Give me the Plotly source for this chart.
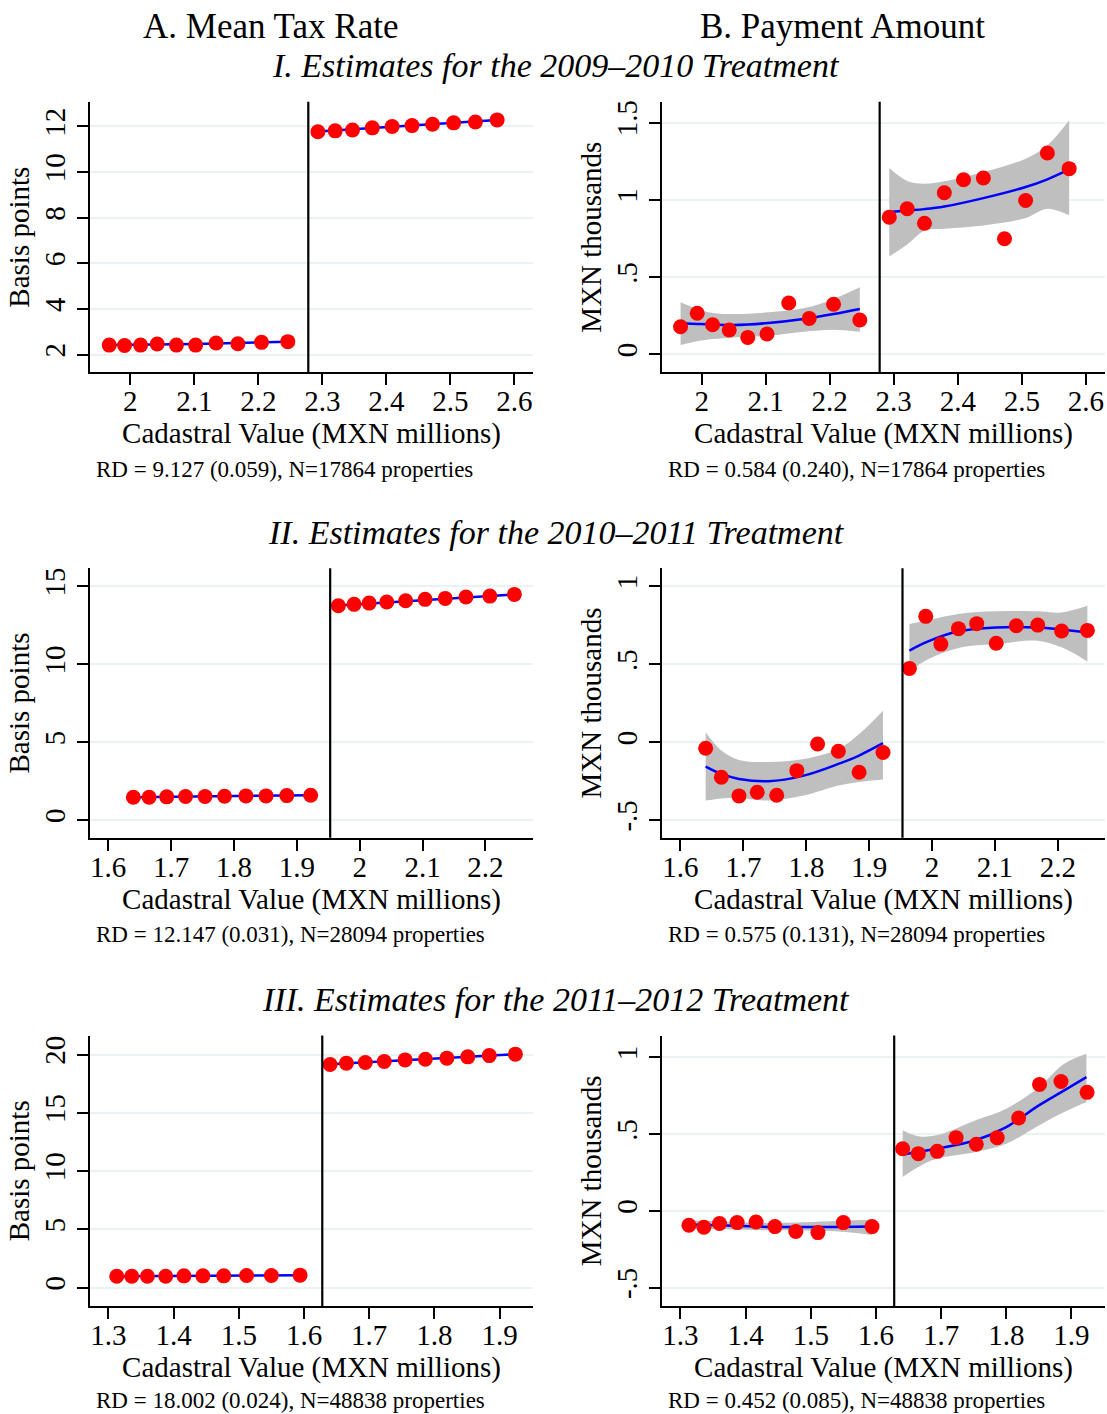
import plotly.graph_objects as go

FONT = "Liberation Serif"
W, H = 1107, 1414

# ---------------- I. 2009-2010 treatment ----------------
# A. mean tax rate (basis points), binned means left/right of the cutoff
a1_x_left = [1.967, 1.991, 2.016, 2.042, 2.072, 2.102, 2.134, 2.168, 2.205, 2.246]
a1_y_left = [2.42, 2.40, 2.42, 2.47, 2.42, 2.42, 2.51, 2.48, 2.54, 2.57]
a1_x_right = [2.293, 2.320, 2.347, 2.378, 2.409, 2.440, 2.472, 2.505, 2.539, 2.573]
a1_y_right = [11.77, 11.81, 11.85, 11.94, 12.00, 12.04, 12.10, 12.16, 12.20, 12.29]
a1_fit_x_left = [1.967, 2.102, 2.246]
a1_fit_left = [2.42, 2.47, 2.57]
a1_fit_x_right = [2.293, 2.440, 2.573]
a1_fit_right = [11.78, 12.04, 12.29]

# B. payment amount (MXN thousands)
b1_x_left = [1.967, 1.993, 2.017, 2.043, 2.072, 2.102, 2.136, 2.168, 2.206, 2.247]
b1_y_left = [0.179, 0.266, 0.192, 0.158, 0.110, 0.132, 0.333, 0.233, 0.324, 0.223]
b1_x_right = [2.293, 2.321, 2.348, 2.379, 2.409, 2.440, 2.473, 2.506, 2.540, 2.574]
b1_y_right = [0.888, 0.942, 0.849, 1.046, 1.130, 1.141, 0.748, 0.996, 1.303, 1.202]
b1_fit_x_left = [1.967, 1.993, 2.017, 2.050, 2.104, 2.159, 2.206, 2.247]
b1_fit_left = [0.202, 0.197, 0.193, 0.190, 0.203, 0.229, 0.261, 0.294]
b1_hi_left = [0.337, 0.294, 0.268, 0.261, 0.272, 0.298, 0.359, 0.434]
b1_lo_left = [0.061, 0.085, 0.099, 0.110, 0.121, 0.147, 0.160, 0.147]
b1_fit_x_right = [2.293, 2.322, 2.348, 2.379, 2.440, 2.506, 2.540, 2.574]
b1_fit_right = [0.921, 0.931, 0.940, 0.957, 1.011, 1.083, 1.133, 1.197]
b1_hi_right = [1.206, 1.120, 1.104, 1.120, 1.180, 1.266, 1.353, 1.515]
b1_lo_right = [0.633, 0.715, 0.800, 0.813, 0.834, 0.882, 0.942, 0.900]

# ---------------- II. 2010-2011 treatment ----------------
a2_x_left = [1.640, 1.665, 1.693, 1.723, 1.754, 1.785, 1.819, 1.851, 1.884, 1.922]
a2_y_left = [1.47, 1.47, 1.50, 1.52, 1.52, 1.54, 1.56, 1.56, 1.58, 1.60]
a2_x_right = [1.966, 1.991, 2.015, 2.043, 2.073, 2.104, 2.136, 2.169, 2.207, 2.246]
a2_y_right = [13.76, 13.85, 13.93, 14.00, 14.08, 14.17, 14.23, 14.32, 14.38, 14.49]
a2_fit_x_left = [1.640, 1.785, 1.922]
a2_fit_left = [1.48, 1.53, 1.60]
a2_fit_x_right = [1.966, 2.104, 2.246]
a2_fit_right = [13.78, 14.13, 14.48]

b2_x_left = [1.640, 1.665, 1.693, 1.722, 1.753, 1.785, 1.818, 1.851, 1.884, 1.922]
b2_y_left = [-0.038, -0.224, -0.344, -0.321, -0.340, -0.182, -0.011, -0.058, -0.192, -0.066]
b2_x_right = [1.964, 1.990, 2.014, 2.042, 2.071, 2.102, 2.134, 2.168, 2.206, 2.247]
b2_y_right = [0.474, 0.808, 0.630, 0.729, 0.761, 0.635, 0.748, 0.752, 0.714, 0.718]
b2_fit_x_left = [1.640, 1.665, 1.693, 1.740, 1.796, 1.851, 1.884, 1.922]
b2_fit_left = [-0.156, -0.203, -0.235, -0.250, -0.214, -0.139, -0.085, -0.006]
b2_hi_left = [0.064, -0.053, -0.113, -0.126, -0.107, -0.043, 0.053, 0.203]
b2_lo_left = [-0.374, -0.360, -0.357, -0.374, -0.342, -0.278, -0.255, -0.239]
b2_fit_x_right = [1.964, 1.990, 2.042, 2.102, 2.168, 2.206, 2.247]
b2_fit_right = [0.588, 0.641, 0.712, 0.737, 0.737, 0.724, 0.705]
b2_hi_right = [0.759, 0.780, 0.823, 0.840, 0.840, 0.833, 0.876]
b2_lo_right = [0.449, 0.524, 0.605, 0.630, 0.652, 0.609, 0.519]

# ---------------- III. 2011-2012 treatment ----------------
a3_x_left = [1.313, 1.336, 1.360, 1.388, 1.416, 1.445, 1.477, 1.512, 1.550, 1.594]
a3_y_left = [0.97, 0.97, 0.97, 0.97, 1.00, 1.00, 1.00, 1.03, 1.03, 1.06]
a3_x_right = [1.640, 1.665, 1.694, 1.723, 1.755, 1.786, 1.819, 1.851, 1.884, 1.924]
a3_y_right = [19.14, 19.26, 19.31, 19.40, 19.54, 19.60, 19.69, 19.80, 19.91, 20.03]
a3_fit_x_left = [1.313, 1.445, 1.594]
a3_fit_left = [0.97, 1.00, 1.05]
a3_fit_x_right = [1.640, 1.786, 1.924]
a3_fit_right = [19.16, 19.59, 20.02]

b3_x_left = [1.313, 1.336, 1.360, 1.387, 1.416, 1.445, 1.477, 1.511, 1.550, 1.594]
b3_y_left = [-0.093, -0.106, -0.082, -0.076, -0.072, -0.102, -0.134, -0.141, -0.076, -0.102]
b3_x_right = [1.641, 1.665, 1.694, 1.723, 1.754, 1.786, 1.819, 1.851, 1.884, 1.924]
b3_y_right = [0.405, 0.373, 0.388, 0.477, 0.434, 0.477, 0.605, 0.824, 0.843, 0.772]
b3_fit_x_left = [1.313, 1.371, 1.435, 1.542, 1.594]
b3_fit_left = [-0.089, -0.095, -0.104, -0.104, -0.102]
b3_hi_left = [-0.061, -0.070, -0.078, -0.065, -0.056]
b3_lo_left = [-0.115, -0.120, -0.126, -0.134, -0.156]
b3_fit_x_right = [1.641, 1.665, 1.693, 1.753, 1.800, 1.850, 1.889, 1.923]
b3_fit_right = [0.368, 0.384, 0.405, 0.460, 0.546, 0.687, 0.785, 0.871]
b3_hi_right = [0.525, 0.486, 0.492, 0.590, 0.665, 0.806, 0.958, 1.023]
b3_lo_right = [0.221, 0.286, 0.340, 0.384, 0.438, 0.557, 0.644, 0.709]

# cutoffs (MXN millions) per treatment
cutoffs = [2.278, 1.953, 1.628]

# tick labels
x_ticks_rows = [
    [2.0, 2.1, 2.2, 2.3, 2.4, 2.5, 2.6],
    [1.6, 1.7, 1.8, 1.9, 2.0, 2.1, 2.2],
    [1.3, 1.4, 1.5, 1.6, 1.7, 1.8, 1.9],
]
x_tick_text_rows = [
    ["2", "2.1", "2.2", "2.3", "2.4", "2.5", "2.6"],
    ["1.6", "1.7", "1.8", "1.9", "2", "2.1", "2.2"],
    ["1.3", "1.4", "1.5", "1.6", "1.7", "1.8", "1.9"],
]
a_y_ticks = [[2, 4, 6, 8, 10, 12], [0, 5, 10, 15], [0, 5, 10, 15, 20]]
b_y_ticks = [[0, 0.5, 1, 1.5], [-0.5, 0, 0.5, 1], [-0.5, 0, 0.5, 1]]
b_y_tick_text = [["0", ".5", "1", "1.5"], ["-.5", "0", ".5", "1"], ["-.5", "0", ".5", "1"]]

rd_labels = [
    ["RD = 9.127 (0.059), N=17864 properties", "RD = 0.584 (0.240), N=17864 properties"],
    ["RD = 12.147 (0.031), N=28094 properties", "RD = 0.575 (0.131), N=28094 properties"],
    ["RD = 18.002 (0.024), N=48838 properties", "RD = 0.452 (0.085), N=48838 properties"],
]
section_titles = [
    "I. Estimates for the 2009\u20132010 Treatment",
    "II. Estimates for the 2010\u20132011 Treatment",
    "III. Estimates for the 2011\u20132012 Treatment",
]
column_titles = ["A. Mean Tax Rate", "B. Payment Amount"]

# panel data tables, built from the arrays above
a_panels = [
    dict(xl=a1_x_left, yl=a1_y_left, xr=a1_x_right, yr=a1_y_right,
         fxl=a1_fit_x_left, fl=a1_fit_left, fxr=a1_fit_x_right, fr=a1_fit_right),
    dict(xl=a2_x_left, yl=a2_y_left, xr=a2_x_right, yr=a2_y_right,
         fxl=a2_fit_x_left, fl=a2_fit_left, fxr=a2_fit_x_right, fr=a2_fit_right),
    dict(xl=a3_x_left, yl=a3_y_left, xr=a3_x_right, yr=a3_y_right,
         fxl=a3_fit_x_left, fl=a3_fit_left, fxr=a3_fit_x_right, fr=a3_fit_right),
]
b_panels = [
    dict(xl=b1_x_left, yl=b1_y_left, xr=b1_x_right, yr=b1_y_right,
         fxl=b1_fit_x_left, fl=b1_fit_left, hl=b1_hi_left, ll=b1_lo_left,
         fxr=b1_fit_x_right, fr=b1_fit_right, hr=b1_hi_right, lr=b1_lo_right),
    dict(xl=b2_x_left, yl=b2_y_left, xr=b2_x_right, yr=b2_y_right,
         fxl=b2_fit_x_left, fl=b2_fit_left, hl=b2_hi_left, ll=b2_lo_left,
         fxr=b2_fit_x_right, fr=b2_fit_right, hr=b2_hi_right, lr=b2_lo_right),
    dict(xl=b3_x_left, yl=b3_y_left, xr=b3_x_right, yr=b3_y_right,
         fxl=b3_fit_x_left, fl=b3_fit_left, hl=b3_hi_left, ll=b3_lo_left,
         fxr=b3_fit_x_right, fr=b3_fit_right, hr=b3_hi_right, lr=b3_lo_right),
]

# ---- layout geometry (pixels) ----
col_x = [(90, 533), (662, 1105)]
row_y = [(100, 371), (567, 837), (1035, 1306)]
x_ranges = [[(1.937, 2.629), (1.938, 2.630)],
            [(1.571, 2.2756), (1.5706, 2.275)],
            [(1.272, 1.951), (1.2717, 1.9515)]]
y_ranges = [[(1.22, 13.08), (-0.117, 1.634)],
            [(-1.13, 16.17), (-0.613, 1.117)],
            [(-1.6, 21.63), (-0.62, 1.142)]]

RED = "#ff0000"
BLUE = "#0000ff"
BAND = "#bfbfbf"
GRID = "#eaf2f3"
TICK_SIZE = 29

fig = go.Figure()
layout = dict(
    width=W, height=H,
    margin=dict(l=0, r=0, t=0, b=0),
    paper_bgcolor="white", plot_bgcolor="white",
    showlegend=False,
    font=dict(family=FONT, size=TICK_SIZE, color="black"),
)
shapes, annotations = [], []


def axis_common():
    return dict(showline=True, linecolor="black", linewidth=2, mirror=False,
                ticks="outside", ticklen=11, tickwidth=1.5, tickcolor="black",
                zeroline=False, tickfont=dict(family=FONT, size=TICK_SIZE, color="black"))


for r in range(3):
    for c in range(2):
        n = r * 2 + c + 1
        xa = "x" if n == 1 else f"x{n}"
        ya = "y" if n == 1 else f"y{n}"
        xkey = "xaxis" if n == 1 else f"xaxis{n}"
        ykey = "yaxis" if n == 1 else f"yaxis{n}"

        x0, x1 = col_x[c]
        ytop, ybot = row_y[r]
        xax = axis_common()
        xax.update(domain=[x0 / W, x1 / W], range=list(x_ranges[r][c]),
                   anchor=ya, showgrid=False, ticklabelstandoff=-9,
                   tickmode="array", tickvals=x_ticks_rows[r], ticktext=x_tick_text_rows[r],
                   title=dict(text="Cadastral Value (MXN millions)", standoff=4,
                              font=dict(family=FONT, size=29, color="black")))
        yax = axis_common()
        if c == 0:
            yt, ytt, ytitle = a_y_ticks[r], [str(v) for v in a_y_ticks[r]], "Basis points"
        else:
            yt, ytt, ytitle = b_y_ticks[r], b_y_tick_text[r], "MXN thousands"
        yax.update(domain=[1 - ybot / H, 1 - ytop / H], range=list(y_ranges[r][c]),
                   anchor=xa, showgrid=True, gridcolor=GRID, gridwidth=2,
                   tickmode="array", tickvals=yt, ticktext=ytt, tickangle=-90,
                   title=dict(text=ytitle, standoff=1,
                              font=dict(family=FONT, size=29, color="black")))
        layout[xkey] = xax
        layout[ykey] = yax

        if c == 0:
            p = a_panels[r]
            for fx, fy in ((p["fxl"], p["fl"]), (p["fxr"], p["fr"])):
                fig.add_trace(go.Scatter(x=fx, y=fy, mode="lines", xaxis=xa, yaxis=ya,
                                         line=dict(color=BLUE, width=2.5),
                                         hoverinfo="skip"))
        else:
            p = b_panels[r]
            for fx, fy, hi, lo in ((p["fxl"], p["fl"], p["hl"], p["ll"]),
                                   (p["fxr"], p["fr"], p["hr"], p["lr"])):
                fig.add_trace(go.Scatter(x=fx, y=lo, mode="lines", xaxis=xa, yaxis=ya,
                                         line=dict(color=BAND, width=0, shape="spline"),
                                         hoverinfo="skip"))
                fig.add_trace(go.Scatter(x=fx, y=hi, mode="lines", xaxis=xa, yaxis=ya,
                                         line=dict(color=BAND, width=0, shape="spline"),
                                         fill="tonexty", fillcolor=BAND,
                                         hoverinfo="skip"))
                fig.add_trace(go.Scatter(x=fx, y=fy, mode="lines", xaxis=xa, yaxis=ya,
                                         line=dict(color=BLUE, width=2.5, shape="spline"),
                                         hoverinfo="skip"))
        for bx, by in ((p["xl"], p["yl"]), (p["xr"], p["yr"])):
            fig.add_trace(go.Scatter(x=bx, y=by, mode="markers", xaxis=xa, yaxis=ya,
                                     marker=dict(color=RED, size=15, line=dict(width=0))))

        # threshold line
        shapes.append(dict(type="line", xref=xa, yref=f"{ya} domain",
                           x0=cutoffs[r], x1=cutoffs[r], y0=0, y1=1,
                           line=dict(color="black", width=2.2)))

        # RD estimate note under the panel
        rd_y = ybot + 97 if r < 2 else ybot + 94
        annotations.append(dict(text=rd_labels[r][c], xref="paper", yref="paper",
                                x=(x0 + 4) / W, y=1 - rd_y / H,
                                xanchor="left", yanchor="middle", showarrow=False,
                                font=dict(family=FONT, size=23, color="black")))

# column headers
for c, (cx, title) in enumerate(zip([270, 842], column_titles)):
    annotations.append(dict(text=title, xref="paper", yref="paper",
                            x=cx / W, y=1 - 25 / H, xanchor="center", yanchor="middle",
                            showarrow=False,
                            font=dict(family=FONT, size=35, color="black")))

# section headers
for r, ty in enumerate([64, 531, 999]):
    annotations.append(dict(text=f"<i>{section_titles[r]}</i>", xref="paper", yref="paper",
                            x=556 / W, y=1 - ty / H, xanchor="center", yanchor="middle",
                            showarrow=False,
                            font=dict(family=FONT, size=34, color="black")))

layout["shapes"] = shapes
layout["annotations"] = annotations
fig.update_layout(**layout)
fig.write_html("out.html")
